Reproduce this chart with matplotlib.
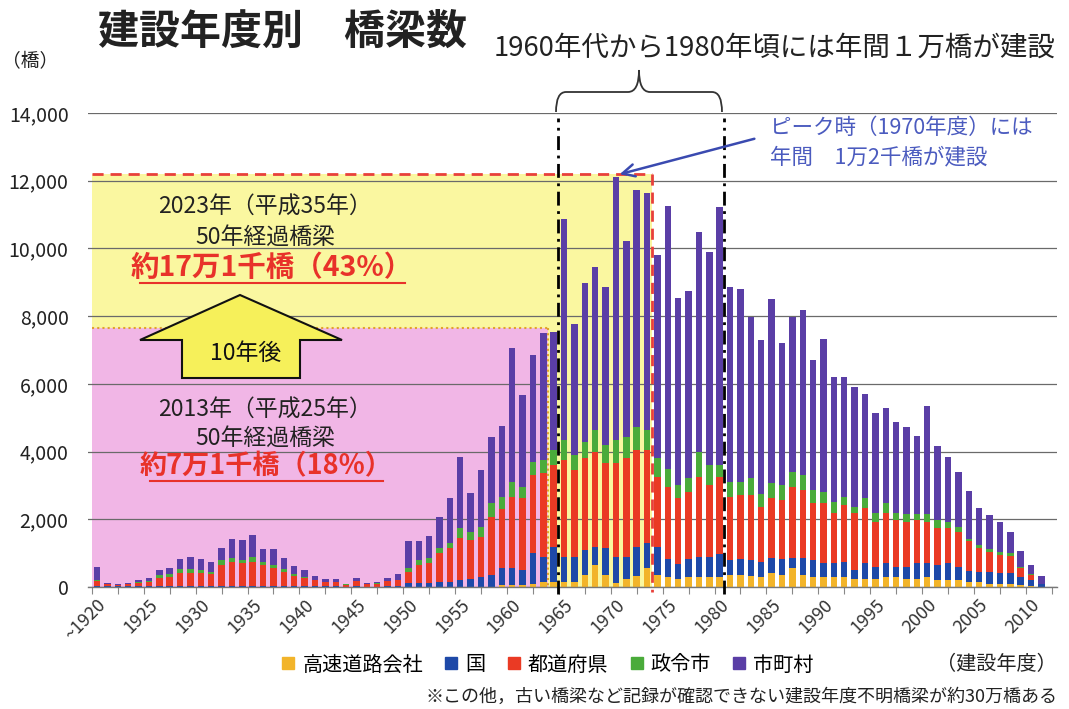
import matplotlib
matplotlib.use('Agg')
import matplotlib.pyplot as plt
from matplotlib.patches import Rectangle, Polygon, PathPatch
from matplotlib.path import Path
from matplotlib.lines import Line2D
import numpy as np

plt.rcParams['font.family'] = ['Noto Sans CJK JP', 'DejaVu Sans']

years = list(range(1920, 2012))
year_labels = ['~1920'] + [str(y) for y in range(1925, 2011, 5)]
label_years = list(range(1920, 2011, 5))

expressway = [0, 0, 0, 0, 0, 0, 0, 0, 0, 0,
              0, 0, 0, 0, 0, 0, 0, 0, 0, 0,
              0, 0, 0, 0, 0, 0, 0, 0, 0, 0,
              0, 0, 0, 0, 0, 0, 0, 0, 0, 50,
              50, 50, 100, 150, 150, 150, 150, 350, 650, 350,
              130, 230, 330, 550, 350, 300, 250, 300, 300, 300,
              300, 350, 350, 330, 300, 400, 350, 550, 350, 300,
              300, 300, 300, 250, 250, 250, 300, 300, 250, 250,
              300, 200, 200, 200, 150, 150, 100, 100, 100, 50,
              20, 0]
national = [40, 20, 15, 20, 25, 25, 30, 30, 35, 35,
            35, 35, 40, 40, 40, 40, 40, 35, 30, 30,
            25, 20, 15, 15, 10, 15, 10, 10, 15, 20,
            130, 120, 130, 150, 150, 200, 225, 300, 350, 500,
            500, 450, 890, 745, 1040, 745, 730, 740, 540, 790,
            750, 665, 860, 740, 840, 530, 435, 530, 580, 580,
            680, 450, 480, 470, 450, 450, 470, 300, 500, 500,
            400, 400, 450, 250, 450, 350, 420, 300, 350, 450,
            400, 450, 500, 400, 330, 300, 330, 300, 300, 250,
            200, 80]
prefecture = [130, 60, 45, 60, 100, 130, 225, 255, 365, 375,
              365, 340, 610, 710, 660, 710, 610, 515, 420, 300,
              255, 180, 135, 135, 60, 150, 80, 90, 150, 180,
              320, 530, 570, 840, 990, 1240, 1165, 1190, 1730, 1740,
              2120, 2120, 2320, 2465, 2410, 2855, 2580, 2710, 2810, 2510,
              2770, 2905, 2860, 2760, 2070, 2130, 1935, 1990, 2380, 2130,
              2280, 1870, 1890, 1920, 1620, 1790, 1750, 2110, 2020, 1670,
              1770, 1500, 1670, 1680, 1620, 1330, 1460, 1380, 1330, 1280,
              1230, 1100, 1050, 1030, 880, 710, 610, 550, 520, 250,
              130, 20]
designated_city = [30, 10, 5, 10, 25, 35, 105, 100, 120, 120,
                   100, 60, 150, 100, 100, 130, 100, 100, 70, 40,
                   30, 20, 10, 10, 5, 15, 5, 5, 10, 20,
                   100, 150, 150, 150, 170, 290, 245, 290, 390, 380,
                   440, 340, 390, 390, 450, 590, 440, 490, 640, 540,
                   690, 640, 690, 590, 560, 540, 390, 390, 740, 590,
                   340, 440, 390, 490, 380, 420, 440, 450, 440, 400,
                   350, 320, 250, 190, 300, 270, 290, 200, 220, 180,
                   220, 230, 160, 150, 70, 80, 70, 70, 70, 30,
                   20, 0]
municipality = [390, 20, 15, 20, 50, 70, 140, 165, 300, 350,
                320, 315, 340, 560, 590, 660, 360, 460, 330, 260,
                190, 105, 65, 90, 5, 100, 35, 35, 80, 155,
                820, 570, 660, 940, 1310, 2120, 1155, 1680, 1970, 2100,
                3940, 2700, 3150, 3740, 3490, 6520, 3870, 4680, 4800, 4660,
                7760, 5780, 6990, 6990, 5990, 7750, 5520, 5540, 6500, 6280,
                7630, 5760, 5680, 4750, 4550, 5440, 4190, 4550, 4870, 3840,
                4500, 3690, 3520, 3550, 3080, 2950, 2810, 2700, 2590, 2310,
                3200, 2190, 1940, 1630, 1410, 1080, 1020, 910, 640, 480,
                280, 225]

series_names = ['高速道路会社', '国', '都道府県', '政令市', '市町村']
series_colors = ['#f2b42a', '#1e49a8', '#ea3a24', '#4aab3a', '#5a3ea6']
series_values = [expressway, national, prefecture, designated_city, municipality]

W, H = 1069, 709
fig = plt.figure(figsize=(W / 100, H / 100), dpi=100)
fig.patch.set_facecolor('white')

def fx(x):
    return x / W

def fy(y):
    return 1 - y / H

ax = fig.add_axes([fx(88), fy(587), fx(1057) - fx(88), fy(113) - fy(587)])
ax.set_xlim(1919.13, 2012.5)
ax.set_ylim(0, 14000)

# background regions
ax.add_patch(Rectangle((1919.5, 0), 1973.5 - 1919.5, 12200, facecolor='#faf7a0',
                       edgecolor='none', zorder=0.1))
ax.add_patch(Rectangle((1919.5, 0), 1963.5 - 1919.5, 7640, facecolor='#f1b6e6',
                       edgecolor='none', zorder=0.2))

# bars
bottom = np.zeros(len(years))
for name, col, vals in zip(series_names, series_colors, series_values):
    v = np.array(vals, dtype=float)
    ax.bar(years, v, bottom=bottom, width=0.62, color=col, label=name,
           zorder=2, linewidth=0)
    bottom += v

# grid & axes
ax.set_yticks(range(0, 14001, 2000))
ax.set_yticklabels([f'{v:,}' for v in range(0, 14001, 2000)], fontsize=14,
                   color='#222222')
ax.yaxis.grid(True, color='#6a6a6a', linewidth=0.9, zorder=0.5)
ax.set_axisbelow(True)
ax.tick_params(axis='y', length=0, pad=14)
for s in ['top', 'right', 'left']:
    ax.spines[s].set_visible(False)
ax.spines['bottom'].set_color('#777777')
ax.spines['bottom'].set_linewidth(1.0)

ax.set_xticks(label_years)
ax.set_xticklabels(year_labels, rotation=45, ha='right', rotation_mode='anchor',
                   fontsize=13, color='#333333')
ax.tick_params(axis='x', which='major', length=0, pad=6)
ax.set_xticks(np.arange(1919.5, 2012.1, 2.5), minor=True)
ax.tick_params(axis='x', which='minor', length=5, color='#888888', width=0.8)

# red dashed border of the 2023 region
ax.plot([1919.5, 1973.5], [12200, 12200], color='#e8403a', lw=2,
        linestyle=(0, (4, 2.5)), zorder=3)
ax.plot([1973.5, 1973.5], [12200, -150], color='#e8403a', lw=2,
        linestyle=(0, (4, 2.5)), zorder=3, clip_on=False)
# orange dotted border of the 2013 region
ax.plot([1919.5, 1963.5], [7640, 7640], color='#e0a030', lw=1.5,
        linestyle=(0, (1, 1.5)), zorder=3)
ax.plot([1963.5, 1963.5], [7640, 0], color='#e0a030', lw=1.5,
        linestyle=(0, (1, 1.5)), zorder=3)

# black dash-dot lines
for xv in [1964.4, 1980.4]:
    ax.plot([xv, xv], [-200, 13850], color='black', lw=2,
            linestyle=(0, (5, 2, 1, 2)), zorder=4, clip_on=False)

# brace (figure pixel coords)
bp = [(556, 112), (556, 92), (566, 92), (628, 92), (639, 92), (639, 70),
      (639, 92), (650, 92), (712, 92), (722, 92), (722, 112)]
codes = [Path.MOVETO, Path.CURVE3, Path.CURVE3, Path.LINETO, Path.CURVE3,
         Path.CURVE3, Path.CURVE3, Path.CURVE3, Path.LINETO, Path.CURVE3,
         Path.CURVE3]
brace = Path([(fx(x), fy(y)) for x, y in bp], codes)
fig.patches.append(PathPatch(brace, transform=fig.transFigure, facecolor='none',
                             edgecolor='#333333', lw=1.3))

# blue annotation arrow
ax.annotate('', xy=(1970.1, 12170), xytext=(1983.6, 13260),
            arrowprops=dict(arrowstyle='->', color='#3a4ab0', lw=1.8,
                            mutation_scale=22), zorder=5)

def ftext(x, y, s, **kw):
    fig.text(fx(x), fy(y), s, **kw)

ftext(283, 32, '建設年度別　橋梁数', fontsize=29.5, fontweight='bold',
      ha='center', va='center', color='#222222')
ftext(775, 48, '1960年代から1980年頃には年間１万橋が建設', fontsize=19.8,
      ha='center', va='center', color='#222222')
ftext(30, 62, '（橋）', fontsize=13.5, ha='center', va='center', color='#222222')
ftext(770, 128, 'ピーク時（1970年度）には', fontsize=15.5, ha='left',
      va='center', color='#4b5bbf')
ftext(770, 157, '年間　1万2千橋が建設', fontsize=15.5, ha='left',
      va='center', color='#4b5bbf')

red = '#e8322a'
ftext(265, 207, '2023年（平成35年）', fontsize=16.5, ha='center', va='center',
      color='#222222')
ftext(265, 237, '50年経過橋梁', fontsize=16.5, ha='center', va='center',
      color='#222222')
ftext(272, 268, '約17万1千橋（43%）', fontsize=20.5, fontweight='bold',
      ha='center', va='center', color=red)
fig.add_artist(Line2D([fx(140), fx(405)], [fy(283), fy(283)], color=red, lw=1.5,
                      transform=fig.transFigure))

ftext(265, 410, '2013年（平成25年）', fontsize=16.5, ha='center', va='center',
      color='#222222')
ftext(265, 438, '50年経過橋梁', fontsize=16.5, ha='center', va='center',
      color='#222222')
ftext(266, 466, '約7万1千橋（18%）', fontsize=19.5, fontweight='bold',
      ha='center', va='center', color=red)
fig.add_artist(Line2D([fx(150), fx(383)], [fy(481), fy(481)], color=red, lw=1.5,
                      transform=fig.transFigure))

# big yellow up arrow
arrow_px = [(240, 295), (342, 340), (300, 340), (300, 378), (182, 378),
            (182, 340), (140, 340)]
fig.patches.append(Polygon([(fx(x), fy(y)) for x, y in arrow_px], closed=True,
                           transform=fig.transFigure, facecolor='#f6f05a',
                           edgecolor='#111111', lw=1.5))
ftext(246, 353, '10年後', fontsize=16.5, ha='center', va='center',
      color='#111111')

# legend
handles = [Line2D([], [], marker='s', linestyle='', markersize=8, color=c)
           for c in series_colors]
fig.legend(handles, series_names, loc='center', bbox_to_anchor=(fx(547), fy(665)),
           ncol=5, frameon=False, fontsize=14.5, handlelength=0.8,
           handletextpad=0.3, columnspacing=1.0, borderaxespad=0)
ftext(1057, 665, '（建設年度）', fontsize=14.5, ha='right', va='center',
      color='#222222')
ftext(1057, 697, '※この他，古い橋梁など記録が確認できない建設年度不明橋梁が約30万橋ある',
      fontsize=13, ha='right', va='center', color='#222222')

fig.savefig('out.png', dpi=100, facecolor='white')
